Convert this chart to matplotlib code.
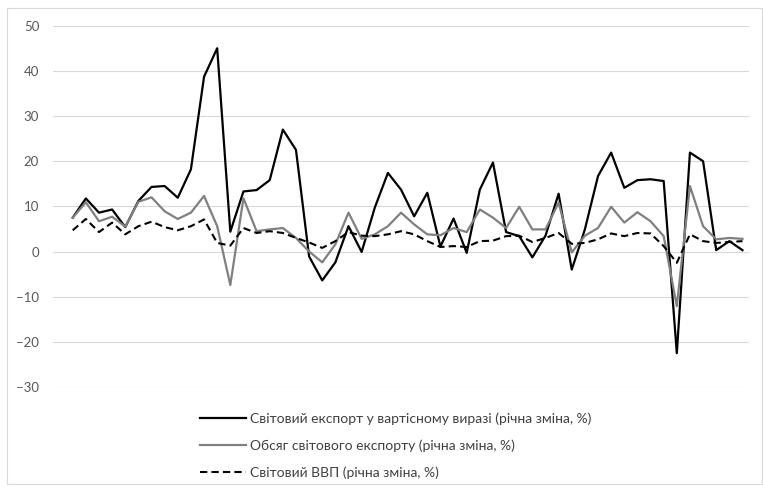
import matplotlib
matplotlib.use('Agg')
import matplotlib.pyplot as plt
from matplotlib.patches import Rectangle

# annual change, %, 1963-2014
years = list(range(1963, 2015))
export_value = [7.5, 11.75, 8.6, 9.3, 5.4, 11.2, 14.3, 14.5, 11.9, 18.2,
                38.7, 45.0, 4.4, 13.3, 13.6, 15.8, 27.0, 22.5, -1.1, -6.4,
                -2.4, 5.6, -0.1, 9.7, 17.4, 13.7, 7.8, 13.0, 1.1, 7.3,
                -0.3, 13.7, 19.7, 4.3, 3.4, -1.3, 3.5, 12.8, -4.0, 4.9,
                16.7, 21.9, 14.1, 15.8, 16.0, 15.6, -22.5, 21.9, 20.0, 0.3,
                2.3, 0.3]
export_volume = [7.5, 10.9, 6.7, 7.7, 5.5, 11.0, 12.0, 8.9, 7.2, 8.6,
                 12.3, 5.6, -7.4, 11.8, 4.5, 4.9, 5.2, 3.0, 0.0, -2.4,
                 1.6, 8.6, 2.8, 3.8, 5.6, 8.6, 6.0, 3.8, 3.6, 5.2,
                 4.3, 9.3, 7.5, 5.2, 9.9, 4.9, 4.9, 10.8, -0.2, 3.5,
                 5.2, 9.9, 6.4, 8.7, 6.7, 3.4, -12.1, 14.5, 5.6, 2.7,
                 3.0, 2.8]
world_gdp = [4.7, 7.2, 4.3, 6.4, 3.8, 5.6, 6.6, 5.4, 4.7, 5.6,
             7.1, 1.9, 1.3, 5.2, 4.1, 4.5, 4.1, 3.0, 2.0, 0.8,
             2.3, 4.3, 3.5, 3.4, 3.8, 4.5, 3.8, 2.3, 1.0, 1.2,
             1.0, 2.3, 2.4, 3.4, 3.5, 2.1, 3.0, 4.1, 1.7, 1.9,
             2.7, 4.0, 3.4, 4.1, 4.0, 1.2, -2.5, 3.8, 2.3, 1.9,
             2.1, 2.3]

labels = ['Світовий експорт у вартісному виразі (річна зміна, %)',
          'Обсяг світового експорту (річна зміна, %)',
          'Світовий ВВП (річна зміна, %)']

plt.rcParams['font.family'] = ['Lato', 'DejaVu Sans']

fig = plt.figure(figsize=(7.63, 4.91), dpi=100)
ax = fig.add_axes([0.0695, 0.2118, 0.9122, 0.7359])

x = list(range(len(years)))
ax.plot(x, export_value, color='black', lw=1.6, label=labels[0])
ax.plot(x, export_volume, color='#808080', lw=1.6, label=labels[1])
ax.plot(x, world_gdp, color='black', lw=1.5, dashes=(3.5, 2), label=labels[2])

ax.set_xlim(-1.5, len(years) - 0.5)
ax.set_ylim(-30, 50)
ax.set_yticks(range(-30, 51, 10))
ax.set_xticks([])
ax.grid(axis='y', color='#D9D9D9', lw=0.8)
ax.set_axisbelow(True)
for s in ax.spines.values():
    s.set_visible(False)
ax.tick_params(axis='y', length=0, pad=10, labelsize=9.5, labelcolor='#595959')

fig.legend(loc='upper left', bbox_to_anchor=(0.255, 0.172), frameon=False,
           fontsize=10, labelcolor='#404040', handlelength=3.3, handletextpad=0.3,
           labelspacing=1.05, borderaxespad=0)

fig.patches.append(Rectangle((7 / 763, 1 - 484 / 491), 755 / 763, 476 / 491,
                             transform=fig.transFigure, fill=False,
                             edgecolor='#D9D9D9', lw=0.8))

fig.savefig('out.png', dpi=100)
